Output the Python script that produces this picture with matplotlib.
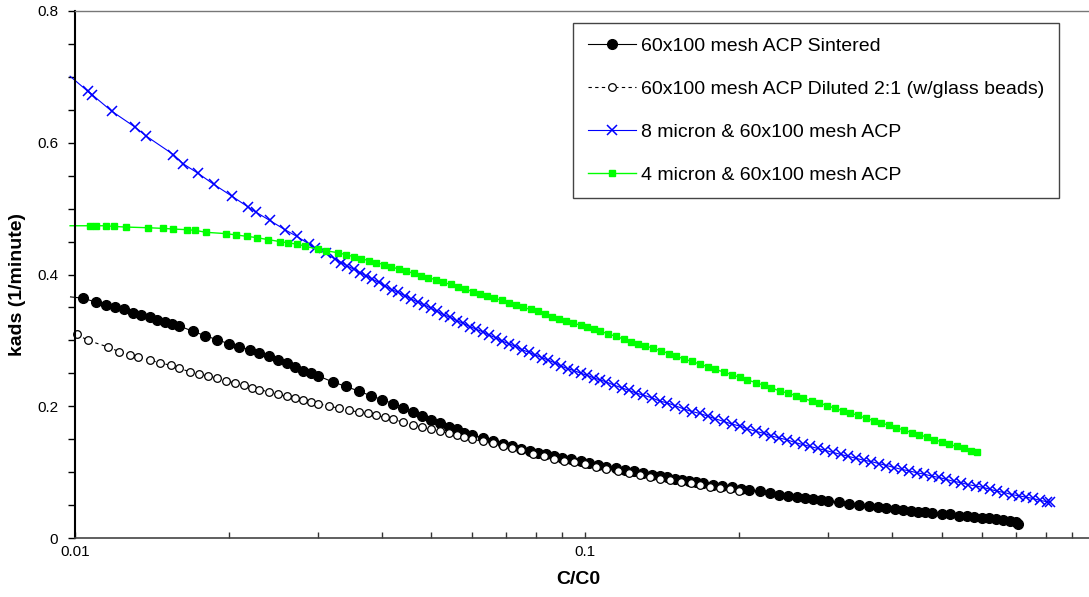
import matplotlib
matplotlib.use("Agg")

import numpy as np
import matplotlib.pyplot as plt
from matplotlib.ticker import FixedLocator, NullFormatter

plt.rcParams['font.family'] = ['Liberation Sans', 'DejaVu Sans']

# 60x100 mesh ACP Sintered
bx = [0.0098, 0.01037, 0.011, 0.0115, 0.012, 0.0125, 0.013, 0.0135, 0.014, 0.0145, 0.015, 0.0155, 0.016,
      0.017, 0.018, 0.019, 0.020, 0.021, 0.022, 0.023, 0.024, 0.025, 0.026, 0.027, 0.028, 0.029, 0.030,
      0.032, 0.034, 0.036, 0.038, 0.040, 0.042, 0.044, 0.046, 0.048, 0.050, 0.052, 0.054, 0.056, 0.058,
      0.060, 0.063, 0.066, 0.069, 0.072, 0.075, 0.078, 0.081, 0.084, 0.087, 0.090, 0.094, 0.098, 0.102,
      0.106, 0.110, 0.115, 0.120, 0.125, 0.130, 0.135, 0.140, 0.145, 0.150, 0.155, 0.160, 0.165, 0.170,
      0.178, 0.186, 0.194, 0.202, 0.210, 0.220, 0.230, 0.240, 0.250, 0.260, 0.270, 0.280, 0.290, 0.300,
      0.315, 0.330, 0.345, 0.360, 0.375, 0.390, 0.405, 0.420, 0.435, 0.450, 0.465, 0.480, 0.500, 0.520,
      0.540, 0.560, 0.580, 0.600, 0.620, 0.640, 0.660, 0.680, 0.700, 0.706]
by = [0.366, 0.364, 0.358, 0.354, 0.350, 0.347, 0.342, 0.339, 0.335, 0.331, 0.328, 0.325, 0.322,
      0.314, 0.307, 0.301, 0.295, 0.290, 0.286, 0.281, 0.276, 0.270, 0.265, 0.259, 0.254, 0.250, 0.246,
      0.237, 0.230, 0.223, 0.216, 0.210, 0.204, 0.198, 0.191, 0.185, 0.179, 0.174, 0.169, 0.165, 0.160,
      0.157, 0.152, 0.148, 0.143, 0.139, 0.135, 0.132, 0.129, 0.127, 0.124, 0.122, 0.120, 0.117, 0.114,
      0.111, 0.108, 0.106, 0.103, 0.101, 0.099, 0.096, 0.094, 0.092, 0.090, 0.088, 0.086, 0.085, 0.083,
      0.081, 0.079, 0.077, 0.075, 0.073, 0.071, 0.068, 0.066, 0.064, 0.062, 0.060, 0.059, 0.057, 0.056,
      0.054, 0.052, 0.050, 0.049, 0.047, 0.046, 0.044, 0.043, 0.041, 0.040, 0.039, 0.038, 0.037, 0.036,
      0.034, 0.033, 0.032, 0.031, 0.030, 0.029, 0.027, 0.026, 0.024, 0.022]

# 60x100 mesh ACP Diluted 2:1 (w/glass beads)
hx = [0.0101, 0.0106, 0.0116, 0.0122, 0.0128, 0.0133, 0.0140, 0.0147, 0.0154, 0.0160, 0.0168, 0.0175,
      0.0182, 0.0190, 0.0198, 0.0206, 0.0214, 0.0222, 0.0230, 0.0240, 0.0250, 0.0260, 0.0270, 0.0280,
      0.0290, 0.0300, 0.0315, 0.0330, 0.0345, 0.0360, 0.0375, 0.0390, 0.0405, 0.0420, 0.0440, 0.0460,
      0.0480, 0.0500, 0.0520, 0.0540, 0.0560, 0.0580, 0.0600, 0.063, 0.066, 0.069, 0.072, 0.075, 0.079,
      0.083, 0.087, 0.091, 0.095, 0.100, 0.105, 0.110, 0.116, 0.122, 0.128, 0.134, 0.140, 0.147, 0.154,
      0.161, 0.168, 0.176, 0.184, 0.192, 0.200]
hy = [0.309, 0.300, 0.290, 0.283, 0.278, 0.275, 0.270, 0.266, 0.262, 0.258, 0.252, 0.249,
      0.246, 0.243, 0.239, 0.235, 0.232, 0.228, 0.225, 0.222, 0.218, 0.215, 0.212, 0.209,
      0.206, 0.204, 0.200, 0.197, 0.194, 0.191, 0.189, 0.186, 0.183, 0.180, 0.176, 0.172,
      0.168, 0.165, 0.162, 0.159, 0.156, 0.153, 0.150, 0.147, 0.144, 0.140, 0.137, 0.133, 0.128,
      0.124, 0.120, 0.117, 0.115, 0.112, 0.108, 0.105, 0.101, 0.098, 0.096, 0.093, 0.090, 0.088, 0.085,
      0.083, 0.080, 0.078, 0.076, 0.074, 0.072]

# 8 micron & 60x100 mesh ACP
ux = [0.00978, 0.0106, 0.0108, 0.0118, 0.0131, 0.0138, 0.0156, 0.0163, 0.0174, 0.0187, 0.0203, 0.0218,
      0.0226, 0.0241, 0.0258, 0.0272, 0.0288, 0.0296, 0.0310, 0.0324, 0.0333, 0.0342, 0.0352, 0.0362,
      0.0372, 0.0383, 0.0394, 0.0406, 0.0418, 0.0430, 0.0443, 0.0456, 0.0470, 0.0484, 0.0498, 0.0513,
      0.0528, 0.0544, 0.0560, 0.0577, 0.0594, 0.0612, 0.0630, 0.0649, 0.0668, 0.0688, 0.0709, 0.0730,
      0.0752, 0.0775, 0.0798, 0.0822, 0.0847, 0.0872, 0.0898, 0.0925, 0.0953, 0.0982, 0.101, 0.104,
      0.107, 0.110, 0.114, 0.118, 0.122, 0.126, 0.130, 0.135, 0.140, 0.145, 0.150, 0.156, 0.162, 0.168,
      0.174, 0.180, 0.187, 0.194, 0.201, 0.208, 0.216, 0.224, 0.232, 0.240, 0.249, 0.258, 0.267, 0.276,
      0.286, 0.296, 0.306, 0.317, 0.328, 0.340, 0.352, 0.364, 0.377, 0.390, 0.404, 0.418, 0.432, 0.447,
      0.462, 0.478, 0.494, 0.511, 0.528, 0.546, 0.564, 0.583, 0.602, 0.622, 0.643, 0.664, 0.686, 0.709,
      0.732, 0.756, 0.781, 0.806, 0.816]
uy = [0.701, 0.678, 0.673, 0.648, 0.624, 0.610, 0.582, 0.568, 0.554, 0.537, 0.519, 0.503,
      0.495, 0.482, 0.468, 0.458, 0.446, 0.440, 0.432, 0.423, 0.418, 0.413, 0.408, 0.403,
      0.398, 0.393, 0.388, 0.382, 0.377, 0.373, 0.368, 0.363, 0.358, 0.354, 0.349, 0.344,
      0.339, 0.335, 0.330, 0.326, 0.321, 0.317, 0.313, 0.308, 0.304, 0.299, 0.295, 0.291,
      0.286, 0.282, 0.278, 0.274, 0.270, 0.266, 0.261, 0.257, 0.254, 0.250, 0.247, 0.243,
      0.240, 0.237, 0.232, 0.228, 0.224, 0.220, 0.217, 0.213, 0.208, 0.205, 0.201, 0.196, 0.192, 0.189,
      0.185, 0.181, 0.177, 0.173, 0.170, 0.166, 0.162, 0.159, 0.155, 0.152, 0.149, 0.145, 0.142, 0.139,
      0.136, 0.133, 0.130, 0.127, 0.124, 0.121, 0.118, 0.116, 0.113, 0.110, 0.107, 0.104, 0.102, 0.099,
      0.097, 0.094, 0.092, 0.089, 0.086, 0.084, 0.081, 0.079, 0.077, 0.074, 0.071, 0.069, 0.066, 0.064,
      0.062, 0.060, 0.057, 0.055, 0.054]

# 4 micron & 60x100 mesh ACP
gx = [0.00978, 0.0107, 0.0110, 0.0115, 0.0119, 0.0126, 0.0139, 0.0149, 0.0156, 0.0166, 0.0172, 0.0181,
      0.0198, 0.0207, 0.0217, 0.0227, 0.0239, 0.0252, 0.0262, 0.0273, 0.0283, 0.0300, 0.0311, 0.0328,
      0.0340, 0.0352, 0.0364, 0.0377, 0.0390, 0.0403, 0.0417, 0.0431, 0.0446, 0.0461, 0.0477, 0.0493,
      0.0510, 0.0527, 0.0545, 0.0563, 0.0582, 0.0602, 0.0622, 0.0643, 0.0664, 0.0686, 0.0709, 0.0733,
      0.0757, 0.0782, 0.0808, 0.0835, 0.0862, 0.0890, 0.0919, 0.0949, 0.0980, 0.101, 0.104, 0.107,
      0.111, 0.115, 0.119, 0.123, 0.127, 0.131, 0.136, 0.141, 0.146, 0.151, 0.156, 0.162, 0.168, 0.174,
      0.180, 0.187, 0.194, 0.201, 0.208, 0.216, 0.224, 0.232, 0.241, 0.250, 0.259, 0.268, 0.278, 0.288,
      0.298, 0.309, 0.320, 0.331, 0.343, 0.355, 0.368, 0.381, 0.394, 0.408, 0.422, 0.437, 0.452, 0.468,
      0.484, 0.501, 0.518, 0.536, 0.554, 0.572, 0.587]
gy = [0.474, 0.474, 0.474, 0.474, 0.473, 0.472, 0.471, 0.470, 0.469, 0.468, 0.467, 0.464,
      0.462, 0.460, 0.458, 0.456, 0.453, 0.450, 0.448, 0.446, 0.443, 0.438, 0.436, 0.433,
      0.430, 0.427, 0.424, 0.421, 0.418, 0.415, 0.412, 0.408, 0.405, 0.402, 0.398, 0.395,
      0.392, 0.388, 0.385, 0.381, 0.378, 0.374, 0.371, 0.368, 0.364, 0.361, 0.357, 0.354,
      0.350, 0.347, 0.344, 0.340, 0.336, 0.333, 0.329, 0.326, 0.323, 0.320, 0.317, 0.314,
      0.310, 0.306, 0.302, 0.298, 0.295, 0.292, 0.288, 0.284, 0.280, 0.276, 0.272, 0.268, 0.264, 0.260,
      0.256, 0.252, 0.248, 0.244, 0.240, 0.236, 0.232, 0.228, 0.223, 0.220, 0.216, 0.212, 0.208, 0.205,
      0.201, 0.197, 0.193, 0.190, 0.186, 0.182, 0.178, 0.175, 0.171, 0.167, 0.164, 0.160, 0.157, 0.153,
      0.149, 0.146, 0.142, 0.139, 0.136, 0.132, 0.130]

labels = ["60x100 mesh ACP Sintered",
          "60x100 mesh ACP Diluted 2:1 (w/glass beads)",
          "8 micron & 60x100 mesh ACP",
          "4 micron & 60x100 mesh ACP"]

fig = plt.figure(figsize=(10.89, 5.97), dpi=100)
ax = fig.add_axes([75/1089, 1-538/597, 1-75/1089, 527/597])

ax.plot(bx, by, color="black", linewidth=0.8, marker="o", markersize=7,
        markevery=slice(1, None), clip_on=False, label=labels[0])
ax.plot(hx, hy, color="black", linewidth=0.8, linestyle=(0, (3, 3)), marker="o", markersize=5.5,
        markerfacecolor="white", markeredgewidth=0.9, clip_on=False, label=labels[1])
ax.plot(ux, uy, color="#0000ff", linewidth=0.8, marker="x", markersize=7.5, markeredgewidth=1.1,
        markevery=slice(1, None), clip_on=False, label=labels[2])
ax.plot(gx, gy, color="#00ff00", linewidth=1.0, marker="s", markersize=4.2,
        markevery=slice(1, None), clip_on=False, label=labels[3])

ax.set_xscale("log")
ax.set_xlim(0.01, 0.973)
ax.set_ylim(0, 0.8)

ax.xaxis.set_major_locator(FixedLocator([0.01, 0.1]))
ax.set_xticklabels(["0.01", "0.1"])
ax.xaxis.set_minor_locator(FixedLocator([k*0.01 for k in range(2, 10)] + [k*0.1 for k in range(2, 10)]))
ax.xaxis.set_minor_formatter(NullFormatter())
ax.tick_params(axis="x", which="both", direction="in", length=4, width=1, color="#333333",
               labelsize=11, pad=5)

ax.set_yticks([0, 0.2, 0.4, 0.6, 0.8])
ax.set_yticklabels(["0", "0.2", "0.4", "0.6", "0.8"])
ax.set_yticks(np.arange(0.05, 0.8, 0.05), minor=True)
ax.tick_params(axis="y", which="both", direction="out", length=5, width=1, labelsize=11, pad=7)

ax.spines["left"].set_linewidth(1.5)
ax.spines["left"].set_color("black")
ax.spines["bottom"].set_linewidth(1.2)
ax.spines["bottom"].set_color("#444444")
ax.spines["top"].set_linewidth(1.0)
ax.spines["top"].set_color("#777777")
ax.spines["right"].set_visible(False)

fig.text(18/1089, 1-284/597, "kads (1/minute)", rotation=90, ha="center", va="center",
         fontsize=14, fontweight="bold")
fig.text(578/1089, 1-580/597, "C/C0", ha="center", va="center", fontsize=14, fontweight="bold")

leg = ax.legend(loc="upper left", bbox_to_anchor=(573/1089, 1-23/597), bbox_transform=fig.transFigure,
                borderaxespad=0, fontsize=14, handlelength=2.5, handletextpad=0.25,
                labelspacing=1.3, borderpad=0.75, fancybox=False, framealpha=1)
leg.get_frame().set_edgecolor("#444444")
leg.get_frame().set_linewidth(1.0)

plt.savefig("out.png", dpi=100)
